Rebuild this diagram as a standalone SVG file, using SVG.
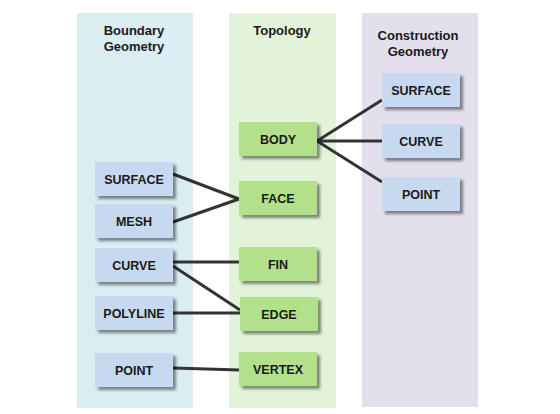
<svg xmlns="http://www.w3.org/2000/svg" width="560" height="414" viewBox="0 0 560 414">
<style>
.t{font-family:"Liberation Sans",Arial,sans-serif;font-weight:bold;font-size:13px;fill:#1a1a1a;text-anchor:middle}
.l{font-family:"Liberation Sans",Arial,sans-serif;font-weight:bold;font-size:12.5px;fill:#1a1a1a;text-anchor:middle}
.b{fill:#c6d9f0;filter:url(#sh)}
.g{fill:#b3e08a;filter:url(#sh)}
.c line{stroke:#333;stroke-width:3;stroke-linecap:butt}
</style>
<defs>
<filter id="sh" x="-20%" y="-30%" width="150%" height="180%">
<feDropShadow dx="3" dy="3" stdDeviation="1.5" flood-color="#000" flood-opacity="0.45"/>
</filter>
</defs>
<rect width="560" height="414" fill="#fff"/>
<g id="panel-boundary">
<rect x="77" y="13" width="116" height="395" fill="#daedf2"/>
<text class="t" x="134" y="35">Boundary</text>
<text class="t" x="134" y="51">Geometry</text>
</g>
<g id="panel-topology">
<rect x="229" y="13" width="107" height="395" fill="#e3f3d9"/>
<text class="t" x="282" y="35">Topology</text>
</g>
<g id="panel-construction">
<rect x="362" y="13" width="116" height="394" fill="#e4dfec"/>
<text class="t" x="418" y="40">Construction</text>
<text class="t" x="418" y="56">Geometry</text>
</g>
<g class="c" id="connectors">
<line x1="317" y1="141" x2="382" y2="100"/>
<line x1="317" y1="141" x2="382" y2="141"/>
<line x1="317" y1="141" x2="382" y2="182"/>
<line x1="173" y1="174" x2="239" y2="199"/>
<line x1="173" y1="222" x2="239" y2="199"/>
<line x1="173" y1="262" x2="239" y2="262"/>
<line x1="173" y1="266" x2="240" y2="310"/>
<line x1="173" y1="313" x2="240" y2="313"/>
<line x1="173" y1="368" x2="240" y2="370"/>
</g>
<g id="b-surface"><rect class="b" x="95" y="162" width="78" height="34"/><text class="l" x="134" y="183.5">SURFACE</text></g>
<g id="b-mesh"><rect class="b" x="95" y="204" width="78" height="34"/><text class="l" x="134" y="225.5">MESH</text></g>
<g id="b-curve"><rect class="b" x="95" y="248" width="78" height="34"/><text class="l" x="134" y="269.5">CURVE</text></g>
<g id="b-polyline"><rect class="b" x="95" y="296" width="78" height="34"/><text class="l" x="134" y="317.5">POLYLINE</text></g>
<g id="b-point"><rect class="b" x="95" y="353" width="78" height="34"/><text class="l" x="134" y="374.5">POINT</text></g>
<g id="t-body"><rect class="g" x="239" y="122" width="78" height="34"/><text class="l" x="278" y="143.5">BODY</text></g>
<g id="t-face"><rect class="g" x="239" y="181" width="78" height="34"/><text class="l" x="278" y="202.5">FACE</text></g>
<g id="t-fin"><rect class="g" x="239" y="247" width="78" height="34"/><text class="l" x="278" y="268.5">FIN</text></g>
<g id="t-edge"><rect class="g" x="240" y="297" width="78" height="34"/><text class="l" x="279" y="318.5">EDGE</text></g>
<g id="t-vertex"><rect class="g" x="239" y="352" width="78" height="34"/><text class="l" x="278" y="373.5">VERTEX</text></g>
<g id="c-surface"><rect class="b" x="382" y="73" width="78" height="34"/><text class="l" x="421" y="94.5">SURFACE</text></g>
<g id="c-curve"><rect class="b" x="382" y="124" width="78" height="34"/><text class="l" x="421" y="145.5">CURVE</text></g>
<g id="c-point"><rect class="b" x="382" y="177" width="78" height="34"/><text class="l" x="421" y="198.5">POINT</text></g>
</svg>
